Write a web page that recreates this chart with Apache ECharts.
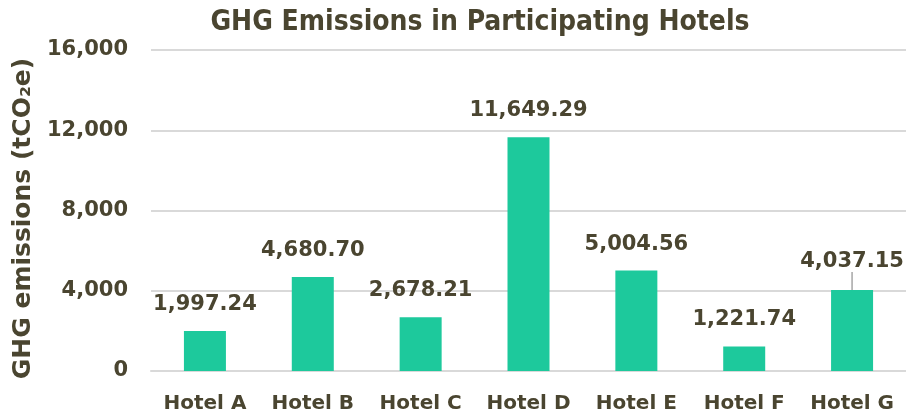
<!DOCTYPE html>
<html>
<head>
<meta charset="utf-8">
<script src="https://cdn.jsdelivr.net/npm/echarts@6/dist/echarts.min.js"></script>
<style>
    html, body { margin: 0; padding: 0; background: #fff; }
    #chart { width: 906px; height: 419px; }
</style>
</head>
<body>
<div id="chart"></div>
<script>
// 酒店类别与排放数据
var hotels = ['Hotel A', 'Hotel B', 'Hotel C', 'Hotel D', 'Hotel E', 'Hotel F', 'Hotel G'];
var emissions = [1997.24, 4680.70, 2678.21, 11649.29, 5004.56, 1221.74, 4037.15];
var yTicks = [0, 4000, 8000, 12000, 16000];
// 带引导线的标签(Hotel G)
var leaderIndex = 6;

var TEXT_COLOR = '#4a4530';
var FONT = '"DejaVu Sans", "Noto Sans", sans-serif';
var TITLE_FONT = '"DejaVu Sans Condensed", "Roboto", sans-serif';

function fmt(v, dec) {
    return v.toLocaleString('en-US', {minimumFractionDigits: dec, maximumFractionDigits: dec});
}

var barData = emissions.map(function (v, i) {
    var item = {value: v};
    if (i === leaderIndex) {
        item.labelLine = {show: true};
    }
    return item;
});

var myChart = echarts.init(document.getElementById('chart'));
var option = {
    animation: false,
    title: {
        text: 'GHG Emissions in Participating Hotels',
        left: 475,
        top: 4,
        textAlign: 'center',
        textStyle: {
            color: TEXT_COLOR,
            fontFamily: TITLE_FONT,
            fontWeight: 'bold',
            fontSize: 28
        }
    },
    grid: {
        left: 151,
        right: 0,
        top: 50,
        bottom: 48
    },
    xAxis: {
        type: 'category',
        data: hotels,
        axisTick: {show: false},
        axisLine: {lineStyle: {color: '#d9d9d9', width: 2}},
        axisLabel: {
            interval: 0,
            color: TEXT_COLOR,
            fontFamily: FONT,
            fontWeight: 'bold',
            fontSize: 20,
            margin: 23
        }
    },
    yAxis: {
        type: 'value',
        min: yTicks[0],
        max: yTicks[yTicks.length - 1],
        interval: 4000,
        name: 'GHG emissions (tCO\u2082e)',
        nameLocation: 'middle',
        nameGap: 109,
        nameTextStyle: {
            color: TEXT_COLOR,
            fontFamily: FONT,
            fontWeight: 'bold',
            fontSize: 25,
            padding: [0, 16, 0, 0]
        },
        axisLabel: {
            color: TEXT_COLOR,
            fontFamily: FONT,
            fontWeight: 'bold',
            fontSize: 21,
            margin: 23,
            formatter: function (v) { return fmt(v, 0); }
        },
        splitLine: {lineStyle: {color: '#d9d9d9', width: 2}}
    },
    series: [{
        type: 'bar',
        data: barData,
        barWidth: 42,
        itemStyle: {color: '#1dc99c'},
        label: {
            show: true,
            position: 'top',
            distance: 16,
            color: TEXT_COLOR,
            fontFamily: FONT,
            fontWeight: 'bold',
            fontSize: 21,
            formatter: function (p) { return fmt(p.value, 2); }
        },
        labelLine: {
            show: false,
            lineStyle: {color: '#a6a6a6', width: 1.5}
        },
        labelLayout: function (params) {
            if (params.dataIndex === leaderIndex) {
                return {dy: -2};
            }
            return {};
        }
    }]
};
myChart.setOption(option);
</script>
</body>
</html>
